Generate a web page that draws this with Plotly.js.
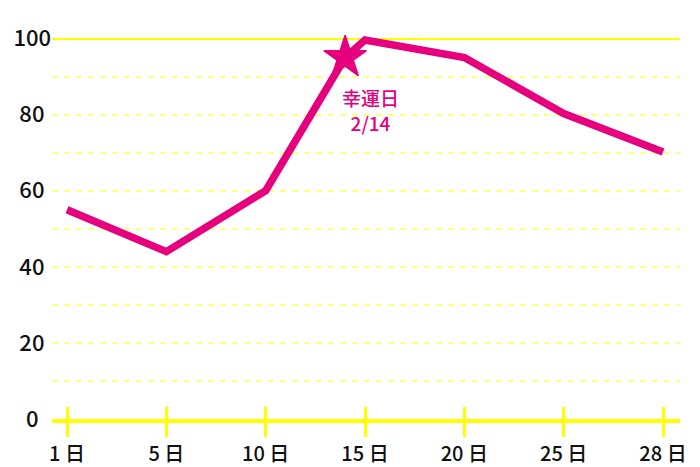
<!DOCTYPE html>
<html>
<head>
<meta charset="utf-8">
<script src="https://cdn.plot.ly/plotly-3.0.1.min.js"></script>
<style>html,body{margin:0;padding:0;background:#fff;}#chart{width:700px;height:467px;}</style>
</head>
<body>
<div id="chart"></div>
<script>
// ---- data ----
var tickDays = [1, 5, 10, 15, 20, 25, 28];
var tickLabels = ['1 日', '5 日', '10 日', '15 日', '20 日', '25 日', '28 日'];
var lineDays = [1, 5, 10, 14, 15, 20, 25, 28];
var lineValues = [55, 44, 60, 95, 99.6, 95, 80.3, 70.2];
var luckyDay = [14];
var luckyValue = [95];
var luckyLabel = '幸運日<br>2/14';
var yTickVals = [0, 20, 40, 60, 80, 100];
var yTickText = ['0', '20', '40', '60', '80', '100'];

// ---- scale: day -> evenly spaced tick position ----
function dayPos(d) {
  for (var i = 0; i < tickDays.length - 1; i++) {
    if (d <= tickDays[i + 1]) {
      return i + (d - tickDays[i]) / (tickDays[i + 1] - tickDays[i]);
    }
  }
  return tickDays.length - 1;
}
var tickPos = tickDays.map(dayPos);
var pink = '#e6007e';
var yellow = '#ffff00';
var font = '"Noto Sans CJK JP", "Noto Sans", sans-serif';

// centre the y labels by padding on the right
var pad = {1: '\u2007', 2: '\u2008', 3: ''};
var yTickTextPadded = yTickText.map(function (t) { return t + pad[t.length]; });

var xr = [-0.151, 6.171];
var yr = [0, 104.87];

var traces = [
  {
    x: lineDays.map(dayPos), y: lineValues,
    type: 'scatter', mode: 'lines',
    line: {color: pink, width: 7.5},
    hoverinfo: 'skip', showlegend: false
  },
  {
    x: luckyDay.map(dayPos), y: luckyValue,
    type: 'scatter', mode: 'markers',
    marker: {symbol: 'star', size: 32, color: pink, line: {width: 1.5, color: pink}},
    hoverinfo: 'skip', showlegend: false
  }
];

var layout = {
  width: 700, height: 467,
  margin: {l: 52, r: 20, t: 20, b: 48},
  paper_bgcolor: '#fff', plot_bgcolor: '#fff',
  font: {family: font, color: '#111', size: 20},
  showlegend: false,
  xaxis: {
    range: xr, tickvals: tickPos, ticktext: tickLabels,
    showgrid: false, zeroline: false,
    showline: true, linecolor: yellow, linewidth: 4,
    ticks: 'outside', ticklen: 14, tickwidth: 3, tickcolor: yellow,
    tickfont: {family: font, size: 20, color: '#111', weight: 500},
    fixedrange: true
  },
  xaxis2: {
    overlaying: 'x', anchor: 'y', side: 'bottom',
    range: xr, tickvals: tickPos, showticklabels: false,
    showgrid: false, zeroline: false, showline: false,
    ticks: 'inside', ticklen: 12, tickwidth: 3, tickcolor: yellow
  },
  yaxis: {
    range: yr, tickvals: yTickVals, ticktext: yTickTextPadded,
    showgrid: true, gridcolor: '#ffff80', gridwidth: 2, griddash: '6px,6px',
    minor: {dtick: 10, tick0: 0, showgrid: true, gridcolor: '#ffff80', gridwidth: 2, griddash: '6px,6px'},
    zeroline: false, showline: false, ticks: '',
    tickfont: {family: font, size: 22, color: '#111', weight: 500},
    fixedrange: true
  },
  yaxis2: {
    overlaying: 'y', anchor: 'x', range: yr, tickvals: [100],
    showticklabels: false, showgrid: true, gridcolor: yellow, gridwidth: 2,
    zeroline: false, showline: false, ticks: ''
  },
  annotations: [{
    x: dayPos(luckyDay[0]), y: luckyValue[0], xref: 'x', yref: 'y',
    text: luckyLabel, showarrow: false,
    xanchor: 'center', yanchor: 'top', xshift: 25, yshift: -24,
    font: {family: font, size: 19, color: pink, weight: 500}, align: 'center'
  }]
};

// invisible trace that carries the overlay axes (extra tick marks / solid 100 line)
traces.unshift({x: [0], y: [0], xaxis: 'x2', yaxis: 'y2', type: 'scatter', mode: 'markers',
  marker: {opacity: 0}, hoverinfo: 'skip', showlegend: false});

Plotly.newPlot('chart', traces, layout, {staticPlot: true, displayModeBar: false});
</script>
</body>
</html>
